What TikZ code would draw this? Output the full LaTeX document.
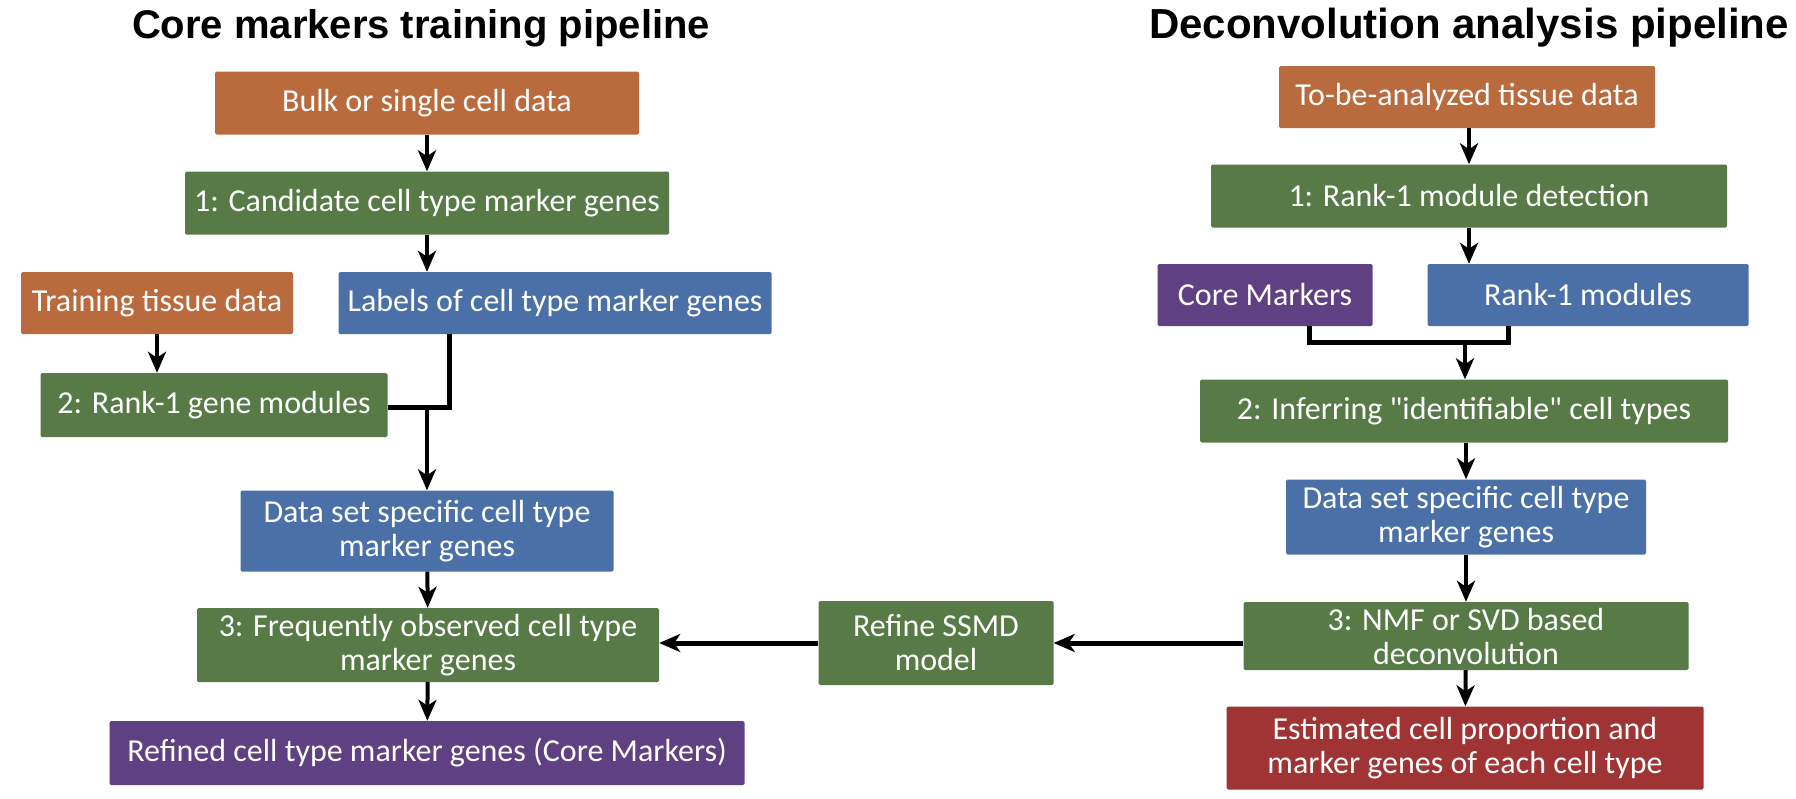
\documentclass[tikz,border=0pt]{standalone}
\usepackage{fontspec}
\setmainfont{Carlito}
\newfontfamily\titlefont{Liberation Sans}
\usetikzlibrary{positioning, arrows.meta}

\definecolor{dataorange}{RGB}{186,107,62}
\definecolor{stepgreen}{RGB}{87,122,70}
\definecolor{geneblue}{RGB}{74,112,167}
\definecolor{corepurple}{RGB}{95,64,130}
\definecolor{outred}{RGB}{160,51,52}

\begin{document}
\begin{tikzpicture}[
    x=1pt, y=-1pt,
    box/.style={rounded corners=1.5pt, inner sep=0pt, align=center, text=white,
        font=\fontsize{32}{34}\selectfont},
    databox/.style={box, fill=dataorange},
    stepbox/.style={box, fill=stepgreen},
    genebox/.style={box, fill=geneblue},
    corebox/.style={box, fill=corepurple},
    outbox/.style={box, fill=outred},
    arr/.style={-{Stealth[length=21pt, width=18pt, inset=6pt]}, line width=4pt},
    link/.style={line width=5pt}
]
    \useasboundingbox (0,0) rectangle (1796,798);

    % titles
    \node[font=\titlefont\bfseries\fontsize{40}{46}\selectfont] (ltitle) at (421,28) {Core markers training pipeline};
    \node[font=\titlefont\bfseries\fontsize{42}{46}\selectfont] (rtitle) at (1469,28) {Deconvolution analysis pipeline};

    % core markers training pipeline
    \node[databox, minimum width=424, minimum height=63] (bulk) at (427,103) {Bulk or single cell data};
    \node[stepbox, minimum width=484, minimum height=63] (cand) at (427,203) {1: Candidate cell type marker genes};
    \node[databox, minimum width=272, minimum height=62] (train) at (157,303) {Training tissue data};
    \node[genebox, minimum width=433, minimum height=62] (labels) at (555,303) {Labels of cell type marker genes};
    \node[stepbox, minimum width=347, minimum height=64] (rankg) at (214,405) {2: Rank-1 gene modules};
    \node[genebox, minimum width=373, minimum height=81] (dssl) at (427,531) {Data set specific cell type\\marker genes};
    \node[stepbox, minimum width=462, minimum height=74] (freq) at (428,645) {3: Frequently observed cell type\\marker genes};
    \node[corebox, minimum width=635, minimum height=64] (refined) at (427,753) {Refined cell type marker genes (Core Markers)};
    \node[stepbox, minimum width=235, minimum height=84] (refine) at (936,643) {Refine SSMD\\model};

    % deconvolution analysis pipeline
    \node[databox, minimum width=376, minimum height=62] (tissue) at (1467,97) {To-be-analyzed tissue data};
    \node[stepbox, minimum width=516, minimum height=63] (detect) at (1469,196) {1: Rank-1 module detection};
    \node[corebox, minimum width=215, minimum height=62] (core) at (1265,295) {Core Markers};
    \node[genebox, minimum width=321, minimum height=62] (rankm) at (1588,295) {Rank-1 modules};
    \node[stepbox, minimum width=528, minimum height=63] (infer) at (1464,411) {2: Inferring \textquotedbl identifiable\textquotedbl{} cell types};
    \node[genebox, minimum width=360, minimum height=75] (dssr) at (1466,517) {Data set specific cell type\\marker genes};
    \node[stepbox, minimum width=445, minimum height=68] (nmf) at (1466,636) {3: NMF or SVD based\\deconvolution};
    \node[outbox, minimum width=477, minimum height=83] (est) at (1465,748) {Estimated cell proportion and\\marker genes of each cell type};

    % junctions
    \coordinate (jl) at (449,407);
    \coordinate (jr) at (1465,342);

    \draw[arr] (bulk) -- (cand);
    \draw[arr] (cand.south) -- (cand.south |- labels.north);
    \draw[arr] (train) -- (train |- rankg.north);
    \draw[link] (labels.south -| jl) -- (jl) -- (jl -| rankg.east);
    \draw[arr] (dssl.north |- jl) -- (dssl);
    \draw[arr] (dssl) -- (freq);
    \draw[arr] (freq) -- (refined);

    \draw[arr] (tissue.south -| detect) -- (detect);
    \draw[arr] (detect.south) -- (detect.south |- rankm.north);
    \draw[link] ([xshift=44pt]core.south) |- (jr) -| ([xshift=-80pt]rankm.south);
    \draw[arr] (jr) -- (infer.north -| jr);
    \draw[arr] (infer.south -| dssr) -- (dssr);
    \draw[arr] (dssr) -- (nmf);
    \draw[arr] (nmf) -- (est);

    \draw[arr, line width=5pt] (refine.east -| nmf.west) -- (refine.east);
    \draw[arr, line width=5pt] (refine.west) -- (refine.west -| freq.east);
\end{tikzpicture}
\end{document}
